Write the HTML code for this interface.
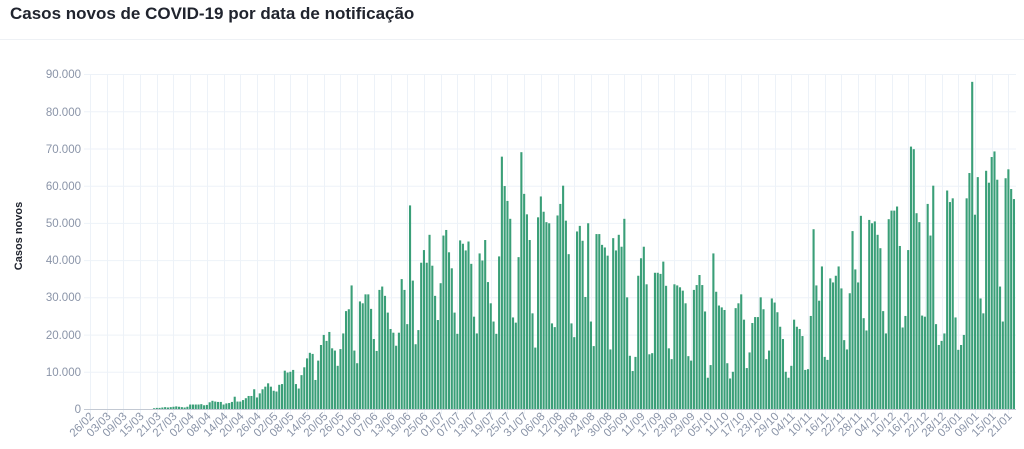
<!DOCTYPE html>
<html><head><meta charset="utf-8"><style>
html,body{margin:0;padding:0;background:#fff;width:1024px;height:449px;overflow:hidden}
svg{display:block;font-family:"Liberation Sans",sans-serif}
</style></head><body>
<svg id="s" width="1024" height="449" viewBox="0 0 1024 449">
<text x="10" y="19" font-size="17" font-weight="bold" fill="#20242e">Casos novos de COVID-19 por data de notificação</text>
<line x1="0" y1="39.5" x2="1024" y2="39.5" stroke="#eef1f5"/>
<g id="grid" stroke="#edf2f8" stroke-width="1"></g>
<g id="bars" fill="#3a9f78"></g>
<line x1="84" y1="409.5" x2="1016" y2="409.5" stroke="#c3c9d3"/>
<g font-size="11.5" fill="#8a94a8" text-anchor="end">
<text x="81" y="413">0</text><text x="81" y="376">10.000</text><text x="81" y="339">20.000</text><text x="81" y="301">30.000</text><text x="81" y="264">40.000</text><text x="81" y="227">50.000</text><text x="81" y="190">60.000</text><text x="81" y="153">70.000</text><text x="81" y="116">80.000</text><text x="81" y="78">90.000</text>
</g>
<text transform="translate(22,236) rotate(-90)" font-size="11" font-weight="bold" fill="#20242e" text-anchor="middle">Casos novos</text>
<g id="xl" font-size="11.5" fill="#8a94a8" text-anchor="end">
<text>26/02</text><text>03/03</text><text>09/03</text><text>15/03</text><text>21/03</text><text>27/03</text><text>02/04</text><text>08/04</text><text>14/04</text><text>20/04</text><text>26/04</text><text>02/05</text><text>08/05</text><text>14/05</text><text>20/05</text><text>26/05</text><text>01/06</text><text>07/06</text><text>13/06</text><text>19/06</text><text>25/06</text><text>01/07</text><text>07/07</text><text>13/07</text><text>19/07</text><text>25/07</text><text>31/07</text><text>06/08</text><text>12/08</text><text>18/08</text><text>24/08</text><text>30/08</text><text>05/09</text><text>11/09</text><text>17/09</text><text>23/09</text><text>29/09</text><text>05/10</text><text>11/10</text><text>17/10</text><text>23/10</text><text>29/10</text><text>04/11</text><text>10/11</text><text>16/11</text><text>22/11</text><text>28/11</text><text>04/12</text><text>10/12</text><text>16/12</text><text>22/12</text><text>28/12</text><text>03/01</text><text>09/01</text><text>15/01</text><text>21/01</text>
</g>
</svg>
<script>
var d=[];
for(var i=0;i<23;i++)d.push(0.03);
d=d.concat([0.2,0.3,0.3,0.4,0.5,0.4,0.5,0.6,0.7,0.6,0.5,0.4,0.6,1.2,1.2,1.2,1.2,1.3,1.0,1.1,1.8,2.2,2.0,1.9,1.9,1.2,1.5,1.6,1.9,3.3,2.0]);
d=d.concat([2.0,2.4,2.9,3.5,3.5,5.3,3.1,4.2,5.3,6.0,6.9,6.0,4.9,4.7,6.5,6.7,10.3,9.8,10.0,10.5,6.7,5.5,9.1,11.2,13.6,15.1,14.8,7.8,13.0,17.2,19.9,18.3,20.7,16.3,15.7,11.6,16.1,20.3,26.3,26.8,33.2,15.7,12.3]);
d=d.concat([28.9,28.4,30.8,30.8,26.9,18.8,15.6,32.0,32.9,30.4,25.9,21.5,20.5,17.0,20.5,34.9,32.0,22.8,54.7,34.5,17.4,21.2,39.3,42.7,39.3,46.8,38.5,30.4,23.9,33.8,46.6,48.1,42.1,37.8,25.9,20.2,45.3,44.4,42.6,45.0,39.0,24.8]);
d=d.concat([20.3,41.8,39.9,45.4,34.1,28.4,23.5,20.2,41.0,67.8,59.9,55.9,51.1,24.6,23.2,40.8,69.0,57.8,52.3,45.4,25.7,16.5,51.5,57.1,53.0,50.2,49.9,23.0,22.0,52.0,55.1,60.0,50.6,41.6,23.0,19.3,47.7,49.2,45.2,30.1,49.9,23.5]);
d=d.concat([16.9,47.0,47.0,44.1,43.4,41.2,16.0,45.9,42.6,46.8,43.6,51.1,30.0,14.3,10.2,14.0,35.8,40.5,43.6,33.5,14.7,15.0,36.6,36.6,36.3,39.6,33.1,16.3,13.4,33.5,33.2,32.7,31.8,28.4,14.2,13.0,32.0,33.3,36.0,33.3,26.2]);
d=d.concat([8.4,11.8,41.8,31.5,27.8,27.3,26.6,12.3,8.2,10.0,27.1,28.4,30.8,24.0,11.0,15.2,23.1,24.7,24.7,30.0,26.8,13.4,15.7,29.7,28.6,26.0,22.1,18.8,10.0,8.4,11.6,24.0,22.1,21.5,19.6,10.5,10.7,25.0,48.3,33.2,29.1,38.3,14.0]);
d=d.concat([13.2,35.1,34.0,35.8,38.3,32.4,18.5,16.0,31.1,47.8,37.5,34.0,51.9,24.4,21.1,50.8,49.9,50.4,46.8,43.2,26.3,20.3,51.0,53.3,53.3,54.4,43.8,21.9,25.0,42.7,70.5,69.8,52.6,50.2,25.1,24.8,55.1,46.6,60.0,22.8,17.2,18.3,20.3,58.7,55.6,56.6,24.6,15.9,17.2,19.9,56.6,63.4,87.9,52.2,62.3,29.7,25.7,64.0,60.8,67.7,69.2,61.6,32.9,23.5,62.0,64.4,59.1,56.4]);
var NS="http://www.w3.org/2000/svg",step=2.783,x0=90;
var g=document.getElementById('grid'),b=document.getElementById('bars');
function el(t,a,p){var e=document.createElementNS(NS,t);for(var k in a)e.setAttribute(k,a[k]);p.appendChild(e);return e;}
for(var k=0;k<=9;k++){var y=409.5-k*37.22;el('line',{x1:84,x2:1016,y1:y.toFixed(1),y2:y.toFixed(1)},g);}
var xl=document.getElementById('xl').children;
for(var k=0;k<xl.length;k++){var x=Math.round(x0+k*6*step)+0.5;el('line',{x1:x,x2:x,y1:74,y2:414},g);
 xl[k].setAttribute('transform','translate('+(x+4)+',417) rotate(-45)');}
for(var i=0;i<d.length;i++){var h=d[i]*3.722;if(h<0.3)continue;var x=x0+i*step-1.05;
 el('rect',{x:x.toFixed(2),y:(409-h).toFixed(2),width:2.1,height:h.toFixed(2)},b);}
</script>
</body></html>
